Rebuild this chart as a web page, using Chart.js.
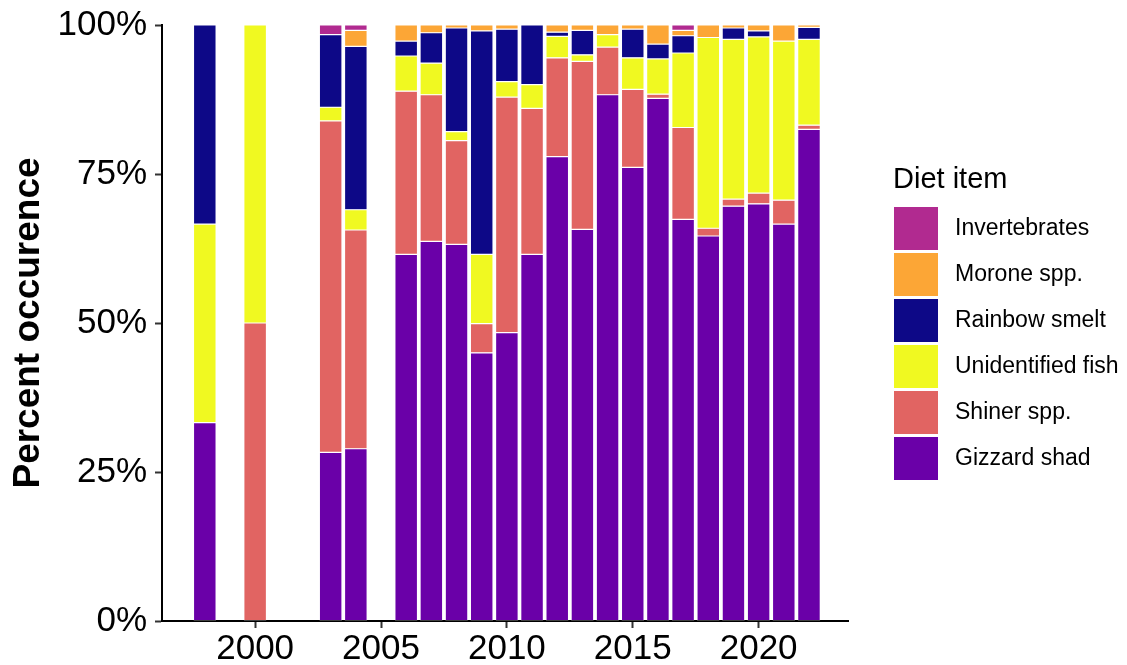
<!DOCTYPE html>
<html>
<head>
<meta charset="utf-8">
<title>Diet item by year</title>
<script src="https://cdn.jsdelivr.net/npm/chart.js@4.4.1/dist/chart.umd.min.js"></script>
<style>
  html, body { margin: 0; padding: 0; background: #fff; }
  #wrap { width: 1127px; height: 665px; }
</style>
</head>
<body>
<div id="wrap"><canvas id="dietChart" width="1127" height="665"></canvas></div>
<script>
// sample years (gaps are years with no data)
const years = [1998, 2000, 2003, 2004, 2006, 2007, 2008, 2009, 2010, 2011, 2012,
               2013, 2014, 2015, 2016, 2017, 2018, 2019, 2020, 2021, 2022];

// percent occurrence per diet item
const gizzardShad      = [33.3, 0, 28.3, 28.9, 61.5, 63.7, 63.2, 45.0, 48.4, 61.5, 77.9, 65.7, 88.3, 76.1, 87.7, 67.4, 64.6, 69.6, 70.0, 66.6, 82.5];
const shinerSpp        = [0, 50, 55.6, 36.7, 27.4, 24.6, 17.4, 4.9, 39.5, 24.5, 16.6, 28.2, 8.0, 13.1, 0.7, 15.4, 1.3, 1.2, 1.8, 4.0, 0.7];
const unidentifiedFish = [33.3, 50, 2.3, 3.4, 5.9, 5.3, 1.5, 11.6, 2.6, 4.0, 3.6, 1.1, 2.1, 5.3, 5.9, 12.5, 32.0, 26.8, 26.2, 26.7, 14.4];
const rainbowSmelt     = [33.4, 0, 12.2, 27.4, 2.5, 5.1, 17.4, 37.5, 8.8, 10.0, 0.7, 4.1, 0, 4.8, 2.5, 2.9, 0, 1.9, 1.0, 0, 2.0];
const moroneSpp        = [0, 0, 0, 2.7, 2.7, 1.3, 0.5, 1.0, 0.7, 0, 1.2, 0.9, 1.6, 0.7, 3.2, 0.9, 2.1, 0.5, 1.0, 2.7, 0.4];
const invertebrates    = [0, 0, 1.6, 0.9, 0, 0, 0, 0, 0, 0, 0, 0, 0, 0, 0, 0.9, 0, 0, 0, 0, 0];

const xTickYears = [2000, 2005, 2010, 2015, 2020];
const yTicks = [0, 25, 50, 75, 100];

const FONT = '"Liberation Sans", Arial, sans-serif';

function toPoints(values) {
    const pts = [];
    values.forEach((v, i) => {
        if (v > 0) pts.push({ x: years[i], y: v });
    });
    return pts;
}

// bottom to top of each stack
const series = [
    { label: 'Gizzard shad', values: gizzardShad, color: '#6A00A8' },
    { label: 'Shiner spp.', values: shinerSpp, color: '#E16462' },
    { label: 'Unidentified fish', values: unidentifiedFish, color: '#F0F921' },
    { label: 'Rainbow smelt', values: rainbowSmelt, color: '#0D0887' },
    { label: 'Morone spp.', values: moroneSpp, color: '#FCA636' },
    { label: 'Invertebrates', values: invertebrates, color: '#B12A90' }
];

const datasets = series.map(s => ({
    label: s.label,
    data: toPoints(s.values),
    backgroundColor: s.color,
    borderColor: '#ffffff',
    borderWidth: 0.6,
    borderSkipped: false,
    barPercentage: 0.9,
    categoryPercentage: 1.0
}));

// legend drawn by hand so the keys sit flush like the original
const dietLegend = {
    id: 'dietLegend',
    afterDraw(chart) {
        const ctx = chart.ctx;
        ctx.save();
        ctx.fillStyle = '#000';
        ctx.font = '29px ' + FONT;
        ctx.textAlign = 'left';
        ctx.textBaseline = 'alphabetic';
        ctx.fillText('Diet item', 893, 188);

        const items = chart.data.datasets.slice().reverse();
        items.forEach((ds, i) => {
            const y = 206 + i * 46;
            ctx.fillStyle = ds.backgroundColor;
            ctx.fillRect(893, y, 46, 45);
            ctx.strokeStyle = '#ffffff';
            ctx.lineWidth = 1;
            ctx.strokeRect(893.5, y + 0.5, 45, 44);
            ctx.fillStyle = '#000';
            ctx.font = '23px ' + FONT;
            ctx.textBaseline = 'middle';
            ctx.fillText(ds.label, 955, y + 23);
        });
        ctx.restore();
    }
};

const ctx = document.getElementById('dietChart').getContext('2d');
const dietChart = new Chart(ctx, {
    type: 'bar',
    data: { datasets: datasets },
    options: {
        responsive: false,
        animation: false,
        layout: { padding: { top: 25, right: 279, bottom: 0, left: 0 } },
        plugins: {
            legend: { display: false },
            tooltip: { enabled: false }
        },
        scales: {
            x: {
                type: 'linear',
                stacked: true,
                offset: false,
                min: 1996.3,
                max: 2023.55,
                afterBuildTicks: scale => {
                    scale.ticks = xTickYears.map(v => ({ value: v }));
                },
                afterFit: scale => {
                    scale.height = 44;
                    scale.paddingLeft = 0;
                    scale.paddingRight = 0;
                },
                grid: {
                    offset: false,
                    drawOnChartArea: false,
                    drawTicks: true,
                    tickLength: 7,
                    tickWidth: 2,
                    tickColor: '#333'
                },
                border: { display: true, color: '#000', width: 2 },
                ticks: {
                    autoSkip: false,
                    maxRotation: 0,
                    padding: 0,
                    color: '#000',
                    font: { family: FONT, size: 35 },
                    callback: v => String(v)
                }
            },
            y: {
                stacked: true,
                min: 0,
                max: 100,
                afterBuildTicks: scale => {
                    scale.ticks = yTicks.map(v => ({ value: v }));
                },
                afterFit: scale => {
                    scale.width = 162;
                    scale.paddingTop = 0;
                    scale.paddingBottom = 0;
                },
                grid: {
                    drawOnChartArea: false,
                    drawTicks: true,
                    tickLength: 7,
                    tickWidth: 2,
                    tickColor: '#333'
                },
                border: { display: true, color: '#000', width: 2 },
                ticks: {
                    padding: 8,
                    color: '#000',
                    font: { family: FONT, size: 35 },
                    callback: v => v + '%'
                },
                title: {
                    display: true,
                    text: 'Percent occurence',
                    color: '#000',
                    padding: { top: 7, bottom: 0 },
                    font: { family: FONT, size: 37, weight: 'bold' }
                }
            }
        }
    },
    plugins: [dietLegend]
});
</script>
</body>
</html>
